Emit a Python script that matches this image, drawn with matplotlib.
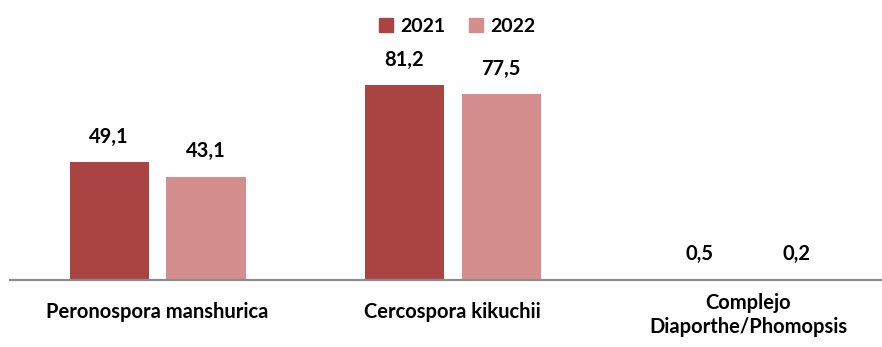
import numpy as np
import matplotlib.pyplot as plt
from matplotlib.patches import Patch

# data
categories = ['Peronospora manshurica', 'Cercospora kikuchii', 'Complejo\nDiaporthe/Phomopsis']
years = ['2021', '2022']
vals_2021 = [49.1, 81.2, 0.5]
vals_2022 = [43.1, 77.5, 0.2]

col_2021 = '#A94443'
col_2022 = '#D48E8E'

plt.rcParams['font.family'] = ['Lato', 'DejaVu Sans']

fig = plt.figure(figsize=(8.82, 3.47), dpi=100)
ax = fig.add_axes([0.0113, 0.193, 0.9887, 0.807])

x = np.arange(len(categories))
w = 0.268  # bar width in category units
off = 0.164

b1 = ax.bar(x - off, vals_2021, w, color=col_2021)
b2 = ax.bar(x + off, vals_2022, w, color=col_2022)

def lab(v):
    return f'{v:.1f}'.replace('.', ',')

for bars, vals in ((b1, vals_2021), (b2, vals_2022)):
    for b, v in zip(bars, vals):
        ax.annotate(lab(v), (b.get_x() + b.get_width() / 2, v),
                    xytext=(0, 11), textcoords='offset points',
                    ha='center', va='bottom', fontsize=14.5, fontweight='bold')

ax.set_xlim(-0.5, 2.454)
ax.set_ylim(0, 116.7)
ax.set_yticks([])
ax.set_xticks([])

# category labels under the axis line; two-line label sits a bit higher
for xi, c in zip(x, categories):
    dy = -9 if '\n' in c else -15.5
    ax.annotate(c, (xi, 0), xytext=(0, dy), textcoords='offset points',
                ha='center', va='top', fontsize=14.5, fontweight='bold',
                linespacing=1.25, annotation_clip=False)

for s in ['top', 'right', 'left']:
    ax.spines[s].set_visible(False)
ax.spines['bottom'].set_color('#8C8C8C')
ax.spines['bottom'].set_linewidth(1.6)

handles = [Patch(color=col_2021), Patch(color=col_2022)]
leg = ax.legend(handles, years, loc='center', bbox_to_anchor=(0.513, 0.905),
                ncol=2, frameon=False, handlelength=0.7, handleheight=0.7,
                handletextpad=0.4, columnspacing=1.2,
                prop={'size': 14, 'weight': 'bold'})

fig.savefig('out.png', dpi=100)
